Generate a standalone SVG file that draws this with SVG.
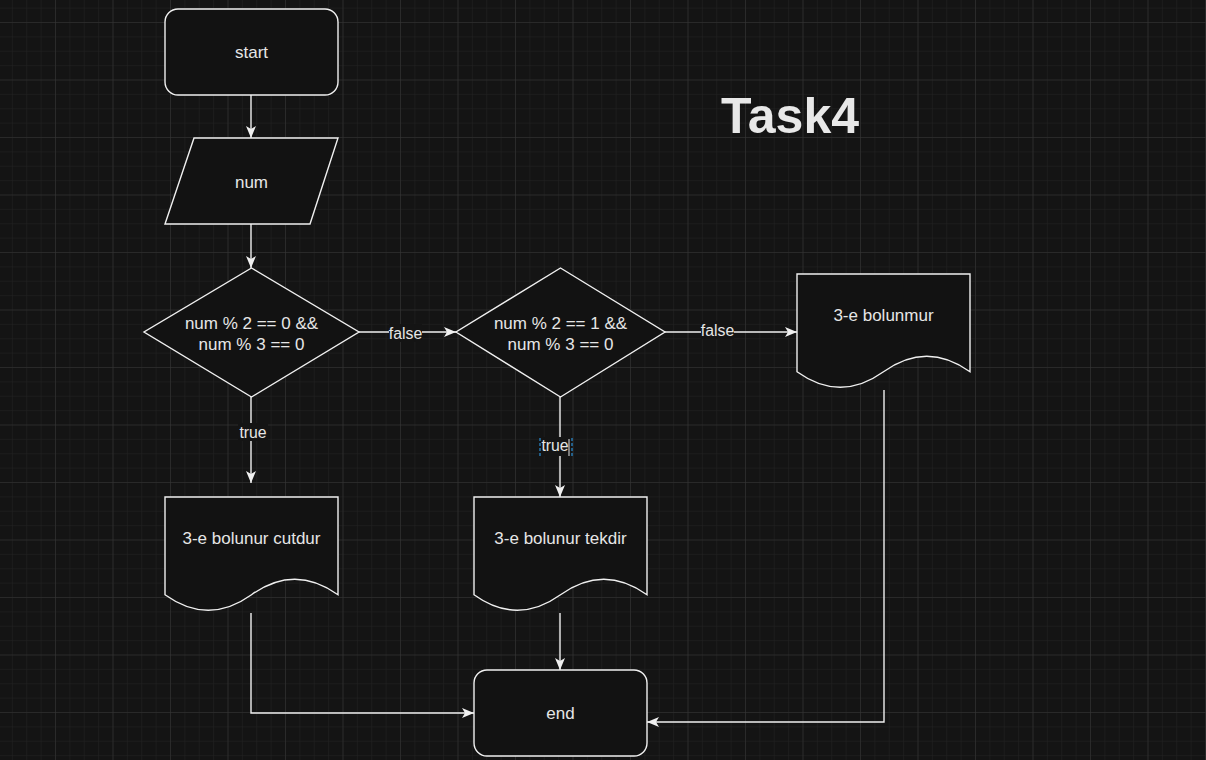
<svg xmlns="http://www.w3.org/2000/svg" width="1206" height="760" viewBox="0 0 1206 760">
<defs>
<pattern id="minor" patternUnits="userSpaceOnUse" x="55" y="22" width="14.375" height="14.375">
<path d="M0,0 H14.375 M0,0 V14.375" fill="none" stroke="#232323" stroke-width="1"/>
</pattern>
<pattern id="major" patternUnits="userSpaceOnUse" x="55" y="22" width="57.5" height="57.5">
<path d="M0,0 H57.5 M0,0 V57.5" fill="none" stroke="#363636" stroke-width="1"/>
</pattern>
<marker id="arr" markerUnits="userSpaceOnUse" viewBox="0 0 12 10" markerWidth="12" markerHeight="10" refX="12" refY="5" orient="auto">
<path d="M0,0 L12,5 L0,10 L3,5 Z" fill="#f0f0f0"/>
</marker>
</defs>
<style>
.shape{fill:#121212;stroke:#f0f0f0;stroke-width:1.4}
.t{font-family:"Liberation Sans",Arial,sans-serif;font-size:17px;fill:#e6e6e6;text-anchor:middle}
.lbl{font-family:"Liberation Sans",Arial,sans-serif;font-size:15.8px;fill:#e6e6e6;text-anchor:middle}
.edge{fill:none;stroke:#f0f0f0;stroke-width:1.4}
.lblbg{fill:#141414}
</style>
<rect x="0" y="0" width="1206" height="760" fill="#141414"/>
<rect x="0" y="0" width="1206" height="760" fill="url(#minor)"/>
<rect x="0" y="0" width="1206" height="760" fill="url(#major)"/>

<g id="connectors">
<path class="edge" d="M251,95 V138" marker-end="url(#arr)"/>
<path class="edge" d="M251,224 V268" marker-end="url(#arr)"/>
<path class="edge" d="M359,332 H456" marker-end="url(#arr)"/>
<path class="edge" d="M665,332 H797" marker-end="url(#arr)"/>
<path class="edge" d="M251,397 V483" marker-end="url(#arr)"/>
<path class="edge" d="M560,397 V497" marker-end="url(#arr)"/>
<path class="edge" d="M251,613 V713 H474" marker-end="url(#arr)"/>
<path class="edge" d="M560,613 V670" marker-end="url(#arr)"/>
<path class="edge" d="M884,390 V722 H647" marker-end="url(#arr)"/>
<g id="label-false1"><rect class="lblbg" x="389" y="324" width="33" height="18"/><text class="lbl" x="405.5" y="338.5">false</text></g>
<g id="label-false2"><rect class="lblbg" x="701" y="321" width="33" height="18"/><text class="lbl" x="717.5" y="335.5">false</text></g>
<g id="label-true1"><rect class="lblbg" x="238" y="423" width="30" height="18"/><text class="lbl" x="253" y="437.5">true</text></g>
<g id="label-true2"><rect class="lblbg" x="541" y="437" width="30" height="19"/><text class="lbl" x="555" y="450.5">true</text>
<path d="M540,438 V458 M572,438 V458" stroke="#2a8fd6" stroke-width="1.2" stroke-dasharray="3,2" fill="none"/>
<path d="M569,439 V456" stroke="#e6e6e6" stroke-width="1"/></g>
</g>

<g id="title"><text x="790" y="133" font-family="'Liberation Sans',Arial,sans-serif" font-size="50" font-weight="bold" fill="#e8e8e8" text-anchor="middle">Task4</text></g>

<g id="start"><rect class="shape" x="165" y="9" width="173" height="86" rx="13"/><text class="t" x="251.5" y="58">start</text></g>

<g id="num"><path class="shape" d="M194,138 H338 L310,224 H165 Z"/><text class="t" x="251.5" y="188">num</text></g>

<g id="cond1"><path class="shape" d="M251.5,268 L359,332 L251.5,397 L144,332 Z"/>
<text class="t" x="251.5" y="329">num % 2 == 0 &amp;&amp;</text><text class="t" x="251.5" y="350">num % 3 == 0</text></g>

<g id="cond2"><path class="shape" d="M560.5,268 L665,332 L560.5,397 L456,332 Z"/>
<text class="t" x="560.5" y="329">num % 2 == 1 &amp;&amp;</text><text class="t" x="560.5" y="350">num % 3 == 0</text></g>

<g id="bolunmur"><path class="shape" d="M797,274 H970 V371.75 Q926.75,340.7 883.5,371.75 T797,371.75 Z"/><text class="t" x="883.5" y="321">3-e bolunmur</text></g>

<g id="cutdur"><path class="shape" d="M165,497 H338 V594.75 Q294.75,563.7 251.5,594.75 T165,594.75 Z"/><text class="t" x="251.5" y="544">3-e bolunur cutdur</text></g>

<g id="tekdir"><path class="shape" d="M474,497 H647 V594.75 Q603.75,563.7 560.5,594.75 T474,594.75 Z"/><text class="t" x="560.5" y="544">3-e bolunur tekdir</text></g>

<g id="end"><rect class="shape" x="474" y="670" width="173" height="86" rx="13"/><text class="t" x="560.5" y="719">end</text></g>
</svg>
